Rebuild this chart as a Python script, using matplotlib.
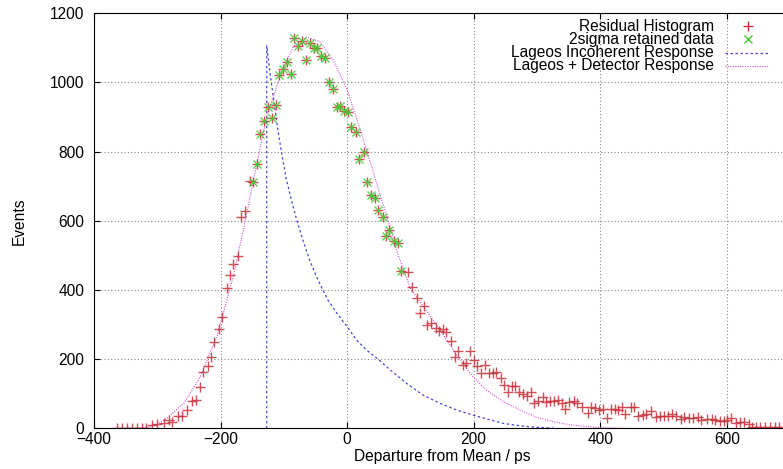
import matplotlib.pyplot as plt
import numpy as np

plt.rcParams['font.family'] = ['Liberation Sans', 'DejaVu Sans']

# Istogramma dei residui (centro bin [ps], conteggi)
res_x = np.array([
    -364, -356, -348, -340, -332, -324, -318, -308, -300, -290, -282, -276,
    -267, -261, -253, -245, -239, -233, -227, -220, -215, -211, -203, -198,
    -190, -185, -180, -173, -167, -161, -154,
    -149, -143, -137, -131, -125, -119, -113, -107, -101, -95, -89, -84,
    -77, -71, -65, -59, -53, -47, -41, -35, -29, -23, -16, -11, -5, 1,
    6, 14, 19, 26, 32, 37, 44, 49, 56, 62, 67, 74, 80, 85,
    97, 102, 110, 115, 121, 127, 133, 140, 146, 151, 157, 164, 170, 176,
    183, 188, 194, 201, 206, 212, 218, 225, 231, 236, 243, 248, 254, 260,
    265, 271, 278, 285, 291, 296, 302, 309, 315, 321, 327, 333, 339, 345,
    351, 358, 364, 371, 380, 385, 392, 398, 404, 410, 417, 423, 428, 435,
    440, 448, 454, 460, 467, 472, 481, 489, 495, 501, 507, 514, 520, 527,
    533, 540, 547, 554, 560, 569, 576, 582, 589, 596, 601, 607, 614, 621,
    628, 635, 640, 646, 653, 660, 668, 676, 682])
res_y = np.array([
    2, 2, 2, 2, 2, 2, 0, 9, 12, 16, 24, 17,
    36, 35, 53, 80, 82, 120, 164, 180, 207, 250, 288, 323,
    407, 442, 474, 498, 610, 627, 715,
    712, 765, 850, 890, 930, 898, 935, 1022, 1038, 1058, 1024, 1128,
    1106, 1119, 1064, 1113, 1101, 1101, 1077, 1071, 1001, 982, 928, 933, 918, 916,
    872, 858, 780, 800, 713, 675, 665, 631, 610, 556, 573, 541, 537, 456,
    451, 408, 378, 332, 354, 298, 304, 289, 282, 286, 279, 252, 207, 224,
    184, 188, 224, 197, 180, 159, 184, 159, 159, 164, 145, 125, 106, 123,
    123, 105, 99, 92, 106, 72, 78, 91, 77, 79, 80, 82, 72, 57,
    75, 79, 72, 63, 44, 63, 58, 52, 57, 29, 55, 55, 54, 61,
    40, 62, 61, 37, 38, 41, 50, 32, 36, 36, 36, 41, 36, 26,
    32, 29, 29, 32, 24, 26, 26, 24, 22, 22, 24, 29, 14, 19,
    19, 12, 5, 5, 3, 3, 3, 3, 3])

# intervallo dei dati tenuti a 2 sigma
sigma2_lo, sigma2_hi = -152, 88

# Risposta incoerente Lageos
inc_x = [-127, -127, -122, -116, -110, -103, -96, -88, -80, -70, -58, -45,
         -30, -15, 0, 15, 31, 49, 68, 94, 120, 147, 173, 199, 225, 247,
         275, 299, 330]
inc_y = [0, 1106, 1030, 950, 870, 790, 720, 660, 605, 545, 480, 425,
         370, 330, 294, 255, 226, 200, 169, 130, 96, 72, 53, 38, 25, 14,
         7, 3, 0]

# Lageos + rivelatore
det_x = [-335, -316, -300, -285, -258, -232, -206, -180, -164, -148, -127,
         -106, -85, -64, -43, -22, 0, 21, 42, 63, 80, 100, 121, 147, 173,
         199, 220, 247, 273, 299, 326, 352, 380, 400, 440]
det_y = [0, 3, 12, 29, 72, 149, 265, 438, 573, 718, 901,
         1017, 1104, 1131, 1118, 1065, 978, 863, 737, 612, 505, 405, 352, 284, 212,
         149, 111, 77, 53, 32, 19, 10, 5, 2, 0]

labels = ['Residual Histogram', '2sigma retained data',
          'Lageos Incoherent Response', 'Lageos + Detector Response']

fig = plt.figure(figsize=(7.83, 4.69), dpi=100)
ax = fig.add_axes([94 / 783, 1 - 428.3 / 469, 696 / 783, 415 / 469])

red = '#c8303a'
green = '#44cc33'
blue = '#4a4ad0'
magenta = '#d050d0'
fs = 11.2

ax.plot(inc_x, inc_y, linestyle=(0, (2, 2)), color=blue, lw=0.9)
ax.plot(det_x, det_y, linestyle=(0, (1, 1.2)), color=magenta, lw=0.8)
ax.plot(res_x, res_y, '+', color=red, ms=7, mew=1.0, alpha=0.85)
mask = (res_x >= sigma2_lo) & (res_x <= sigma2_hi)
ax.plot(res_x[mask], res_y[mask], 'x', color=green, ms=6, mew=1.0, alpha=0.85)

ax.set_xlim(-400, 700)
ax.set_ylim(0, 1200)
ax.set_xticks(np.arange(-400, 700, 200))
ax.set_yticks(np.arange(0, 1201, 200))
ax.tick_params(direction='in', length=4, top=True, right=False,
               labelsize=fs)
ax.tick_params(axis='x', pad=3)
ax.tick_params(axis='y', pad=7)
ax.grid(True, linestyle=(0, (1, 2)), color='#888888', lw=0.8)
ax.spines['right'].set_visible(False)

ax.set_xlabel('Departure from Mean / ps', fontsize=fs, labelpad=1)
ax.set_ylabel('Events', fontsize=fs, labelpad=17)

# legenda stile gnuplot (testo allineato a destra, campione a destra)
ly = [0.969, 0.937, 0.905, 0.874]
for i, lab in enumerate(labels):
    ax.text(0.891, ly[i], lab, transform=ax.transAxes, ha='right',
            va='center', fontsize=fs)
ax.plot([0.939], [ly[0]], '+', color=red, ms=7, mew=1.0, transform=ax.transAxes)
ax.plot([0.939], [ly[1]], 'x', color=green, ms=6, mew=1.0, transform=ax.transAxes)
ax.plot([0.907, 0.968], [ly[2], ly[2]], linestyle=(0, (2, 2)), color=blue,
        lw=0.9, transform=ax.transAxes)
ax.plot([0.907, 0.968], [ly[3], ly[3]], linestyle=(0, (1, 1.2)), color=magenta,
        lw=0.8, transform=ax.transAxes)

fig.savefig('out.png', dpi=100)
